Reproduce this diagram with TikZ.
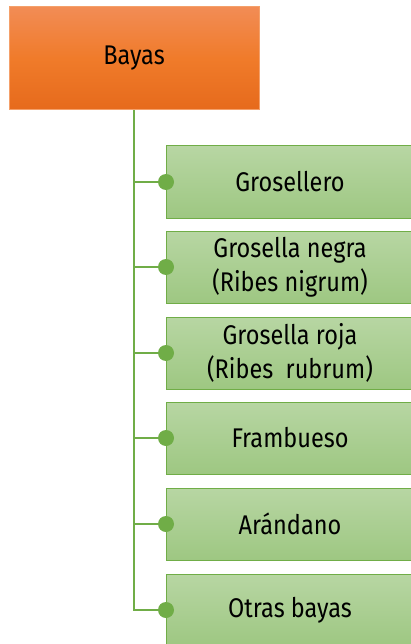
\documentclass[tikz,border=0pt]{standalone}
\usepackage{fontspec}
\setmainfont{Fira Sans}[FakeStretch=0.87]
\definecolor{roottop}{HTML}{F28C55}
\definecolor{rootmid}{HTML}{F07B2A}
\definecolor{rootbottom}{HTML}{E66A1C}
\definecolor{rootline}{HTML}{F4A06A}
\definecolor{leafline}{HTML}{70AD47}

\begin{document}
\begin{tikzpicture}[
    x=1pt, y=-1pt,
    root/.style={rectangle, draw=rootline, line width=1pt, top color=roottop, bottom color=rootbottom,
        middle color=rootmid, minimum width=250pt, minimum height=103pt, font=\fontsize{27}{33}\selectfont},
    leaf/.style={rectangle, draw=leafline, line width=1pt, top color=leafline!50!white, bottom color=leafline!68!white,
        minimum width=247pt, minimum height=72pt, align=center, inner sep=0pt, font=\fontsize{27}{34}\selectfont},
    link/.style={draw=leafline, line width=2.6pt},
    dot/.style={circle, fill=leafline, inner sep=0pt, minimum size=16pt}
]
\useasboundingbox (0,0) rectangle (411,644);
\clip (0,0) rectangle (411,644);

% Define root
\node[root] (bayas) at (134, 58.5) {Bayas};

% Define leaves
\node[leaf, anchor=west] (l1) at (166, 182) {Grosellero};
\node[leaf, anchor=west] (l2) at (166, 267) {Grosella negra\\(Ribes nigrum)};
\node[leaf, anchor=west] (l3) at (166, 353) {Grosella roja\\(Ribes\ \ rubrum)};
\node[leaf, anchor=west] (l4) at (166, 438) {Frambueso};
\node[leaf, anchor=west] (l5) at (166, 524) {Arándano};
\node[leaf, anchor=west] (l6) at (166, 610) {Otras bayas};

% Define links
\foreach \k in {1,...,6} {
    \draw[link] (bayas.south) |- (l\k.west);
    \node[dot] (d\k) at (l\k.west) {};
}

\end{tikzpicture}
\end{document}
